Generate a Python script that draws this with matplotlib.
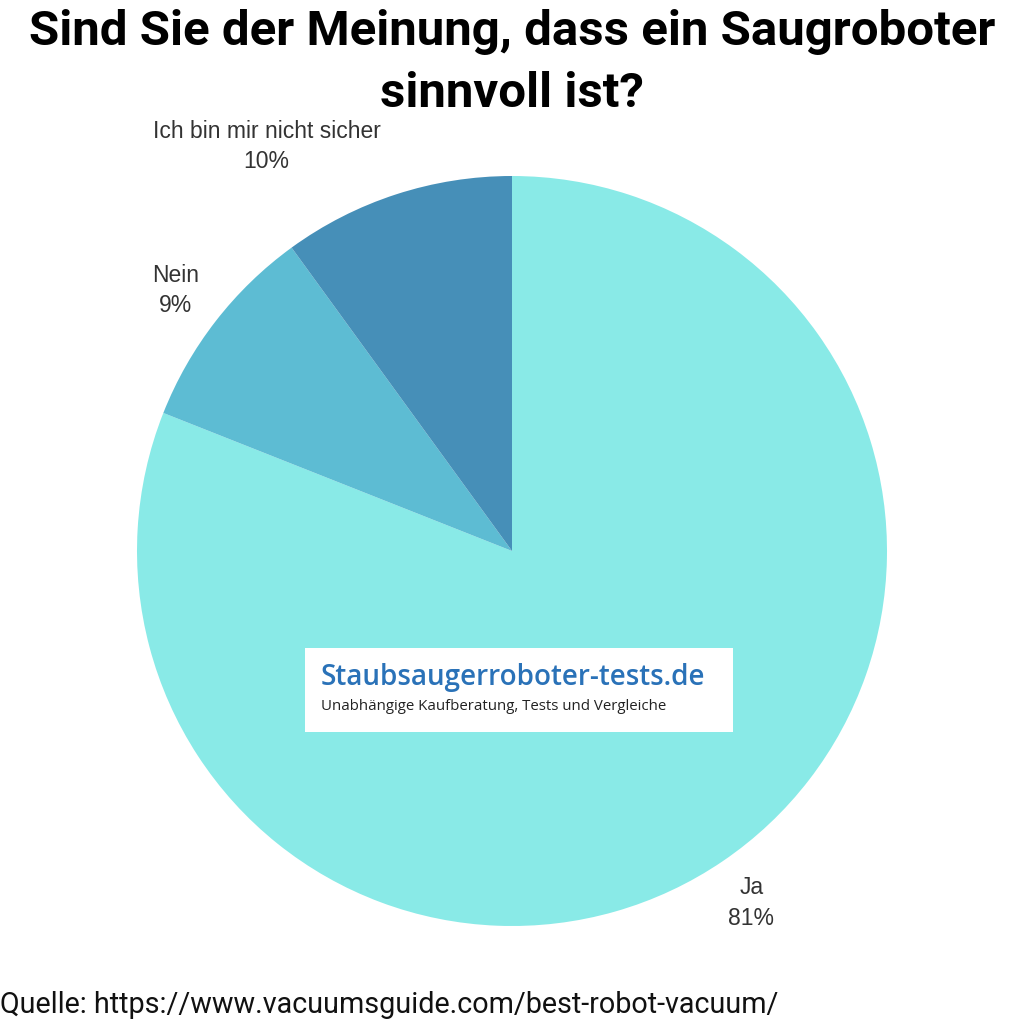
import matplotlib.pyplot as plt
from matplotlib.patches import Rectangle

# Daten
antworten = ['Ja', 'Nein', 'Ich bin mir nicht sicher']
anteile = [81, 9, 10]
farben = ['#89EAE7', '#5DBCD3', '#468FB8']

titel = 'Sind Sie der Meinung, dass ein Saugroboter\nsinnvoll ist?'
quelle = 'Quelle: https://www.vacuumsguide.com/best-robot-vacuum/'

schrift = ['Roboto', 'DejaVu Sans']

fig = plt.figure(figsize=(10.24, 10.24), dpi=100, facecolor='white')
ax = fig.add_axes([0, 0, 1, 1])

# Kreisdiagramm (Pixelkoordinaten, y von unten)
wedges, texts = ax.pie(
    anteile,
    labels=[f'{a}\n{p}%' for a, p in zip(antworten, anteile)],
    colors=farben,
    startangle=90,
    counterclock=False,
    center=(512, 1024 - 551),
    radius=375,
    labeldistance=1.135,
    frame=True,
    textprops=dict(fontsize=16.5, color='#333333', family='Liberation Sans',
                   linespacing=1.4),
)
ax.set_xlim(0, 1024)
ax.set_ylim(0, 1024)
ax.set_aspect('equal')
ax.axis('off')
texts[0].set_ha('center')
texts[1].set_ha('center')
texts[2].set_ha('right')
for t in texts:
    t.set_multialignment('center')

# Logo-Kasten
ax.add_patch(Rectangle((305, 1024 - 732), 428, 84, facecolor='white',
                       edgecolor='none', zorder=3))
ax.text(321, 1024 - 677, 'Staubsaugerroboter-tests.de', fontsize=20.1,
        fontweight='semibold', family='Open Sans', color='#2A72B8',
        va='center', ha='left', zorder=4)
ax.text(321, 1024 - 706, 'Unabhängige Kaufberatung, Tests und Vergleiche',
        fontsize=10.8, family='Open Sans', color='#222222',
        va='center', ha='left', zorder=4)

# Titel
fig.text(0.5, 1 - 63 / 1024, titel, ha='center', va='center', fontsize=35.5,
         fontweight='bold', family=schrift, color='black', linespacing=1.45)

# Quelle
fig.text(0.0, 1 - 1005 / 1024, quelle, ha='left', va='center', fontsize=20.7,
         family=schrift, color='#111111')

plt.savefig('out.png', dpi=100, facecolor='white')
plt.close()
